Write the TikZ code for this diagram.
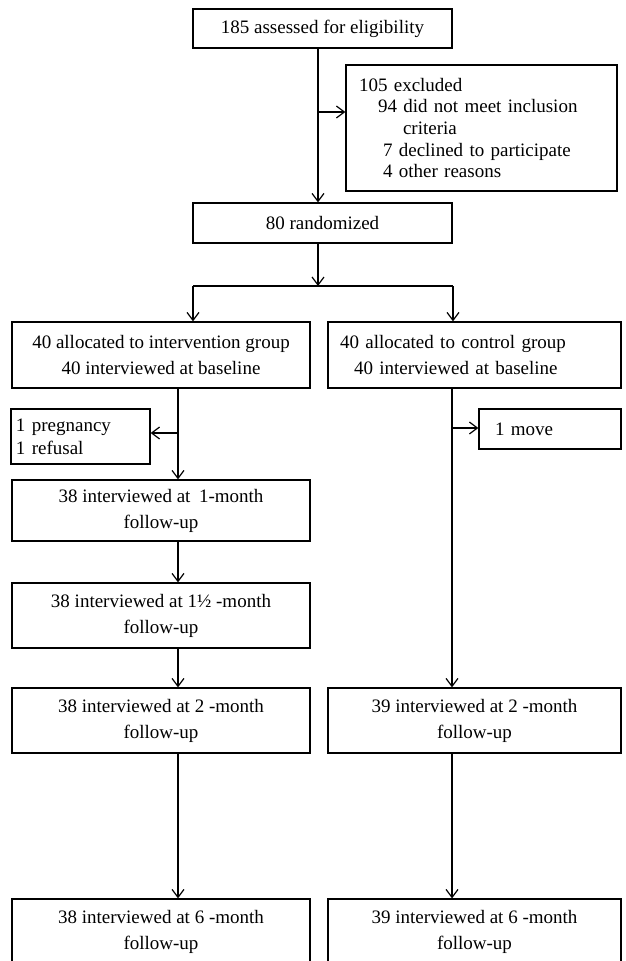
\documentclass[tikz,border=0pt]{standalone}
\usepackage{fontspec}
\setmainfont{Liberation Serif}
\usetikzlibrary{arrows.meta}
\begin{document}
\begin{tikzpicture}[x=1pt,y=-1pt,
  box/.style={draw,line width=1.2pt,align=center,inner sep=2pt,font=\fontsize{19}{26}\selectfont},
  arr/.style={-{Straight Barb[length=8pt,width=12pt]},line width=1.2pt},
  ln/.style={line width=1.2pt}]
\useasboundingbox (0,0) rectangle (626,961);
% boxes
\node[box,minimum width=259pt,minimum height=39pt] (b1) at (322.5,28.5) {185 assessed for eligibility};
\node[box,align=left,text width=245pt,inner xsep=13pt,minimum height=126pt,font=\fontsize{19}{21.7}\selectfont] (ex) at (481.5,128)
  {105 excluded\\\hspace*{19pt}94 did not meet inclusion\\\hspace*{44pt}criteria\\\hspace*{24pt}7 declined to participate\\\hspace*{24pt}4 other reasons};
\node[box,minimum width=259pt,minimum height=40pt] (rand) at (322.5,223) {80 randomized};
\node[box,minimum width=298pt,minimum height=66pt] (aL) at (161,355) {40 allocated to intervention group\\40 interviewed at baseline};
\node[box,align=left,text width=269pt,inner xsep=12pt,minimum height=66pt] (aR) at (474.5,355) {40 allocated to control group\\\hspace*{14pt}40 interviewed at baseline};
\node[box,align=left,text width=129pt,inner xsep=5pt,minimum height=55pt,font=\fontsize{19}{23}\selectfont] (preg) at (80.5,436.5) {1 pregnancy\\1 refusal};
\node[box,align=left,text width=110pt,inner xsep=16pt,minimum height=40pt] (move) at (550,429) {1 move};
\node[box,minimum width=298pt,minimum height=61pt] (m1) at (161,510.5) {38 interviewed at\hspace{0.2em} 1-month\\follow-up};
\node[box,minimum width=298pt,minimum height=65pt] (m15) at (161,615.5) {38 interviewed at 1½ -month\\follow-up};
\node[box,minimum width=298pt,minimum height=65pt] (m2L) at (161,720.5) {38 interviewed at 2 -month\\follow-up};
\node[box,minimum width=293pt,minimum height=65pt] (m2R) at (474.5,720.5) {39 interviewed at 2 -month\\follow-up};
\node[box,minimum width=298pt,minimum height=65pt] (m6L) at (161,931.5) {38 interviewed at 6 -month\\follow-up};
\node[box,minimum width=293pt,minimum height=65pt] (m6R) at (474.5,931.5) {39 interviewed at 6 -month\\follow-up};
% coordinates
\coordinate (c1) at (318,0);
\coordinate (j1) at (318,112);
\coordinate (br) at (318,286);
\coordinate (brL) at (193,286);
\coordinate (brR) at (453,286);
\coordinate (colL) at (178,0);
\coordinate (colR) at (452,0);
\coordinate (jL) at (178,433);
\coordinate (jR) at (452,428);
% connectors
\draw[arr] (b1.south -| c1) -- (rand.north -| c1);
\draw[arr] (j1) -- (j1 -| ex.west);
\draw[arr] (rand.south -| br) -- (br);
\draw[ln] (brL) -- (brR);
\draw[arr] (brL) -- (brL |- aL.north);
\draw[arr] (brR) -- (brR |- aR.north);
\draw[arr] (aL.south -| colL) -- (m1.north -| colL);
\draw[arr] (jL) -- (jL -| preg.east);
\draw[arr] (m1.south -| colL) -- (m15.north -| colL);
\draw[arr] (m15.south -| colL) -- (m2L.north -| colL);
\draw[arr] (m2L.south -| colL) -- (m6L.north -| colL);
\draw[arr] (aR.south -| colR) -- (m2R.north -| colR);
\draw[arr] (jR) -- (jR -| move.west);
\draw[arr] (m2R.south -| colR) -- (m6R.north -| colR);
\end{tikzpicture}
\end{document}
